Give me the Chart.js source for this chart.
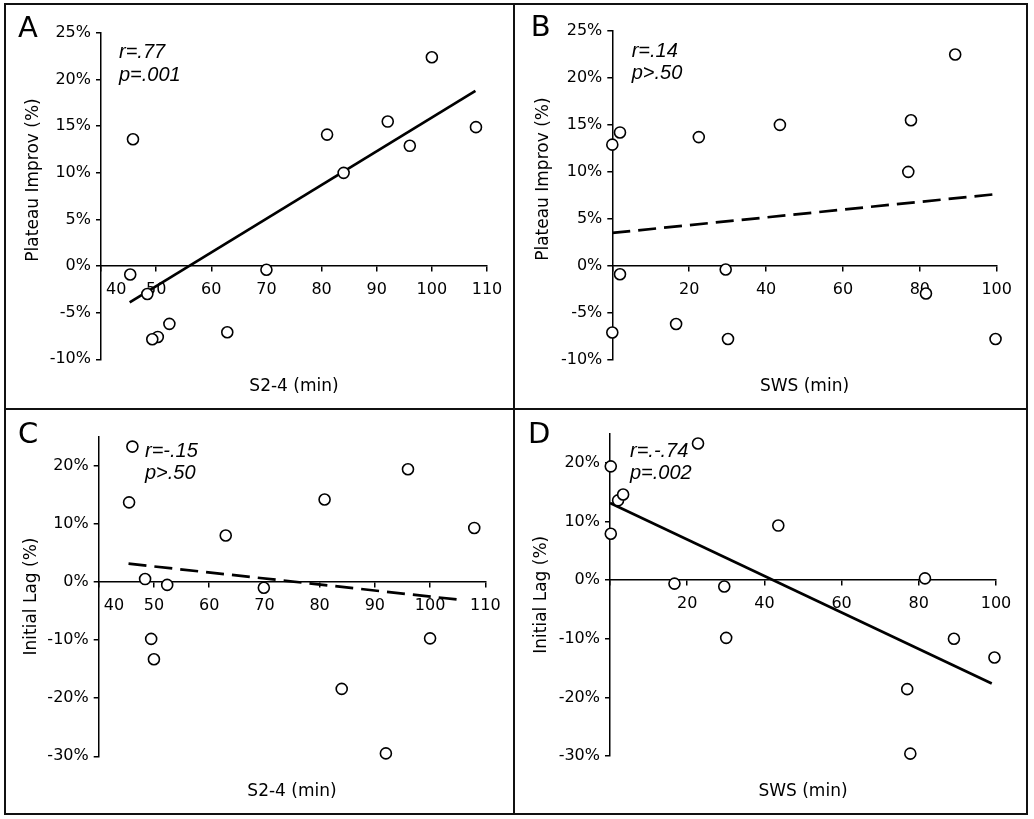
<!DOCTYPE html>
<html>
<head>
<meta charset="utf-8">
<script src="https://cdn.jsdelivr.net/npm/chart.js@4.4.1/dist/chart.umd.min.js"></script>
<style>
  body { margin: 0; background: #fff; }
  #frame { position: absolute; left: 4px; top: 3px; width: 1020px; height: 808px; border: 2px solid #111; }
  .vline { position: absolute; left: 513px; top: 3px; width: 2px; height: 812px; background: #111; }
  .hline { position: absolute; left: 4px; top: 408px; width: 1024px; height: 2px; background: #111; }
  .panel { position: absolute; }
</style>
</head>
<body>
<div id="frame"></div>
<div class="vline"></div>
<div class="hline"></div>
<div class="panel" style="left:6px;top:5px;width:507px;height:403px"><canvas id="chartA"></canvas></div>
<div class="panel" style="left:516px;top:5px;width:510px;height:403px"><canvas id="chartB"></canvas></div>
<div class="panel" style="left:6px;top:411px;width:507px;height:402px"><canvas id="chartC"></canvas></div>
<div class="panel" style="left:516px;top:411px;width:510px;height:402px"><canvas id="chartD"></canvas></div>
<script>
// S2-4 minutes and SWS minutes per subject
const s24PlateauX = [45.8, 81.0, 92.0, 96.0, 100.0, 108.0, 84.0, 70.0, 45.3, 48.4, 52.4, 50.3, 49.3, 62.9];
const s24PlateauY = [13.6, 14.1, 15.5, 12.9, 22.4, 14.9, 10.0, -0.4, -0.9, -3.0, -6.2, -7.6, -7.85, -7.1];
const swsPlateauX = [0.0, 2.0, 22.5, 43.6, 77.7, 77.0, 89.2, 2.0, 29.5, 81.6, 0.0, 16.6, 30.1, 99.7];
const swsPlateauY = [12.9, 14.2, 13.7, 15.0, 15.5, 10.0, 22.5, -0.9, -0.4, -2.95, -7.1, -6.2, -7.8, -7.8];
const s24LagX = [46.1, 45.5, 48.4, 52.4, 49.5, 50.0, 63.0, 69.9, 80.9, 96.0, 108.0, 100.0, 84.0, 92.0];
const s24LagY = [23.3, 13.7, 0.5, -0.5, -9.8, -13.3, 8.0, -1.0, 14.2, 19.4, 9.3, -9.7, -18.4, -29.5];
const swsLagX = [0.2, 0.2, 2.1, 3.4, 22.8, 16.7, 29.6, 30.1, 43.6, 81.6, 77.0, 77.8, 89.1, 99.6];
const swsLagY = [19.4, 7.9, 13.6, 14.6, 23.3, -0.6, -1.1, -9.85, 9.3, 0.3, -18.6, -29.6, -10.0, -13.2];

// regression line end points [x0, x1] and [y0, y1]
const trendAX = [45.2, 107.9], trendAY = [-3.9, 18.8];
const trendBX = [0, 99.1], trendBY = [3.5, 7.6];
const trendCX = [45.4, 106.2], trendCY = [3.15, -3.15];
const trendDX = [0, 98.9], trendDY = [13.15, -17.65];

const statsA = ['r=.77', 'p=.001'];
const statsB = ['r=.14', 'p>.50'];
const statsC = ['r=-.15', 'p>.50'];
const statsD = ['r=.-.74', 'p=.002'];

const tickFont = { family: 'DejaVu Sans', size: 16 };
const titleFont = { family: 'DejaVu Sans', size: 17 };

function pairs(xs, ys) {
    return xs.map((x, i) => ({ x: x, y: ys[i] }));
}

// draws the panel letter and the r / p text
const panelText = {
    id: 'panelText',
    afterDraw(chart, args, opts) {
        const ctx = chart.ctx;
        ctx.save();
        ctx.fillStyle = '#000';
        ctx.textAlign = 'left';
        ctx.textBaseline = 'alphabetic';
        ctx.font = '29px "DejaVu Sans"';
        ctx.fillText(opts.letter, opts.lx, opts.ly);
        ctx.font = 'italic 20px "Liberation Sans"';
        opts.lines.forEach((t, i) => ctx.fillText(t, opts.tx, opts.ty + i * 22.5));
        ctx.restore();
    }
};

function makeChart(id, cfg) {
    const xTicks = {
        font: tickFont, color: '#000', padding: 9, maxRotation: 0, autoSkip: false,
        stepSize: cfg.xStep,
        callback: function(v) {
            if (v === cfg.xMin) return cfg.xMin === 0 ? '' : '      ' + v;
            return '' + v;
        }
    };
    return new Chart(document.getElementById(id), {
        data: {
            datasets: [{
                type: 'scatter',
                data: pairs(cfg.xs, cfg.ys),
                pointRadius: 5.5,
                pointHoverRadius: 5.5,
                pointBackgroundColor: '#fff',
                pointBorderColor: '#000',
                pointBorderWidth: 1.6,
                clip: false
            }, {
                type: 'line',
                data: pairs(cfg.tx, cfg.ty),
                borderColor: '#000',
                borderWidth: 2.7,
                borderDash: cfg.dashed ? [18, 8] : [],
                pointRadius: 0,
                fill: false
            }]
        },
        options: {
            responsive: true,
            maintainAspectRatio: false,
            animation: false,
            events: [],
            layout: { padding: { left: 0, top: cfg.pad[0], right: cfg.pad[1], bottom: 0 } },
            plugins: {
                legend: { display: false },
                tooltip: { enabled: false },
                panelText: cfg.text
            },
            scales: {
                x: {
                    type: 'linear',
                    position: { y: 0 },
                    min: cfg.xMin, max: cfg.xMax,
                    ticks: xTicks,
                    grid: { drawOnChartArea: false, drawTicks: true, tickLength: 5, color: '#000', lineWidth: 1.5 },
                    border: { display: true, color: '#000', width: 1.5 }
                },
                xt: {
                    type: 'linear',
                    position: 'bottom',
                    ticks: { display: false },
                    grid: { display: false },
                    border: { display: false },
                    title: { display: true, text: cfg.xTitle, font: titleFont, color: '#000', padding: { top: 0, bottom: 11.5 } },
                    afterFit: s => { s.height = cfg.bottomH; }
                },
                y: {
                    type: 'linear',
                    position: 'left',
                    min: cfg.yMin, max: cfg.yMax,
                    ticks: {
                        font: tickFont, color: '#000', padding: 5, stepSize: cfg.yStep, includeBounds: false,
                        callback: v => v + '%'
                    },
                    grid: { drawOnChartArea: false, drawTicks: true, tickLength: 5, color: '#000', lineWidth: 1.5 },
                    border: { display: true, color: '#000', width: 1.5 },
                    title: { display: true, text: cfg.yTitle, font: titleFont, color: '#000', padding: { top: cfg.yTitlePad, bottom: 0 } },
                    afterFit: s => { s.width = cfg.leftW; }
                }
            }
        },
        plugins: [panelText]
    });
}

makeChart('chartA', {
    xs: s24PlateauX, ys: s24PlateauY, tx: trendAX, ty: trendAY, dashed: false,
    xMin: 40, xMax: 110, xStep: 10, yMin: -10, yMax: 25, yStep: 5,
    xTitle: 'S2-4 (min)', yTitle: '      Plateau Improv (%)',
    pad: [28, 26], leftW: 95, bottomH: 48.7, yTitlePad: 17.5,
    text: { letter: 'A', lx: 12, ly: 32, lines: statsA, tx: 113, ty: 53 }
});

makeChart('chartB', {
    xs: swsPlateauX, ys: swsPlateauY, tx: trendBX, ty: trendBY, dashed: true,
    xMin: 0, xMax: 100, xStep: 20, yMin: -10, yMax: 25, yStep: 5,
    xTitle: 'SWS (min)', yTitle: '      Plateau Improv (%)',
    pad: [26, 29.3], leftW: 96.3, bottomH: 48.3, yTitlePad: 17.2,
    text: { letter: 'B', lx: 14.7, ly: 31, lines: statsB, tx: 115.7, ty: 51.7 }
});

makeChart('chartC', {
    xs: s24LagX, ys: s24LagY, tx: trendCX, ty: trendCY, dashed: true,
    xMin: 40, xMax: 110, xStep: 10, yMin: -30, yMax: 25, yStep: 10,
    xTitle: 'S2-4 (min)', yTitle: 'Initial Lag (%)',
    pad: [25.7, 27.7], leftW: 92.7, bottomH: 56.7, yTitlePad: 15.5,
    text: { letter: 'C', lx: 12, ly: 32, lines: statsC, tx: 139, ty: 45.7 }
});

makeChart('chartD', {
    xs: swsLagX, ys: swsLagY, tx: trendDX, ty: trendDY, dashed: false,
    xMin: 0, xMax: 100, xStep: 20, yMin: -30, yMax: 25, yStep: 10,
    xTitle: 'SWS (min)', yTitle: 'Initial Lag (%)',
    pad: [22.5, 30], leftW: 94, bottomH: 57, yTitlePad: 15.5,
    text: { letter: 'D', lx: 12, ly: 31.7, lines: statsD, tx: 114, ty: 45.7 }
});
</script>
</body>
</html>
